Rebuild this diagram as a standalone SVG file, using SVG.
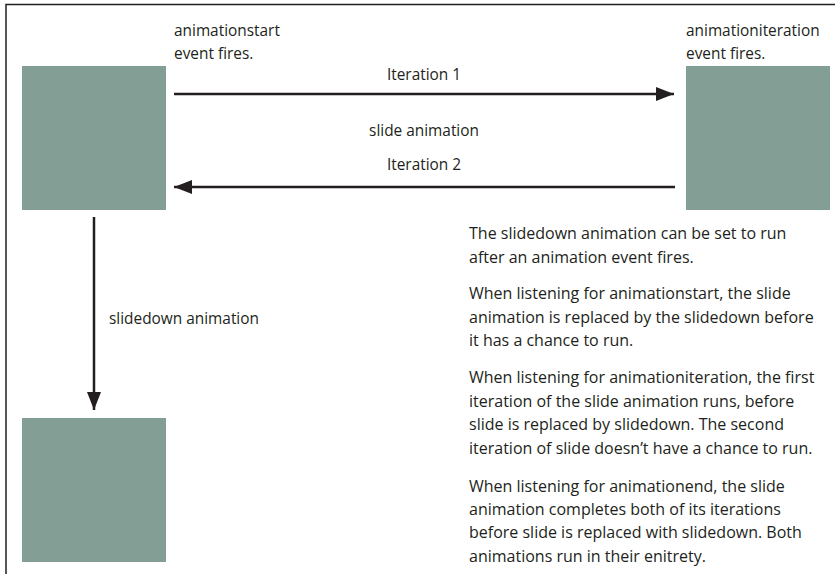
<svg xmlns="http://www.w3.org/2000/svg" width="835" height="574" viewBox="0 0 835 574">
<style>
text{font-family:"Open Sans","Noto Sans","Liberation Sans",sans-serif;font-size:15.4px;fill:#231f20}
#notes text{font-size:16px}
.box{fill:#839e94}
.ln{stroke:#231f20;stroke-width:2.5;fill:none}
.c{text-anchor:middle}
</style>
<defs>
<marker id="ah" markerWidth="18" markerHeight="14" refX="18" refY="7" orient="auto" markerUnits="userSpaceOnUse">
<path d="M0,0 L18,7 L0,14 Z" fill="#231f20"/>
</marker>
</defs>
<rect width="835" height="574" fill="#fff"/>
<path d="M6,574 V4.5 H835" stroke="#231f20" stroke-width="1.5" fill="none"/>
<g id="start-node">
<rect class="box" x="22" y="66" width="144" height="144"/>
<text x="174" y="36">animationstart</text>
<text x="174" y="59">event fires.</text>
</g>
<g id="iteration-node">
<rect class="box" x="686" y="66" width="144" height="144"/>
<text x="686" y="36">animationiteration</text>
<text x="686" y="59">event fires.</text>
</g>
<g id="slidedown-node">
<rect class="box" x="22" y="418" width="144" height="144"/>
</g>
<g id="connectors">
<line class="ln" x1="174" y1="94" x2="674" y2="94" marker-end="url(#ah)"/>
<line class="ln" x1="675" y1="187" x2="174" y2="187" marker-end="url(#ah)"/>
<line class="ln" x1="94" y1="217" x2="94" y2="410" marker-end="url(#ah)"/>
<text class="c" x="424" y="80">Iteration 1</text>
<text class="c" x="424" y="136">slide animation</text>
<text class="c" x="424" y="170">Iteration 2</text>
<text x="109" y="324">slidedown animation</text>
</g>
<g id="notes">
<text x="469" y="239">The slidedown animation can be set to run</text>
<text x="469" y="263">after an animation event fires.</text>
<text x="469" y="299">When listening for animationstart, the slide</text>
<text x="469" y="323">animation is replaced by the slidedown before</text>
<text x="469" y="346">it has a chance to run.</text>
<text x="469" y="383">When listening for animationiteration, the first</text>
<text x="469" y="407">iteration of the slide animation runs, before</text>
<text x="469" y="430">slide is replaced by slidedown. The second</text>
<text x="469" y="454">iteration of slide doesn’t have a chance to run.</text>
<text x="469" y="492">When listening for animationend, the slide</text>
<text x="469" y="515">animation completes both of its iterations</text>
<text x="469" y="538">before slide is replaced with slidedown. Both</text>
<text x="469" y="562">animations run in their enitrety.</text>
</g>
</svg>
